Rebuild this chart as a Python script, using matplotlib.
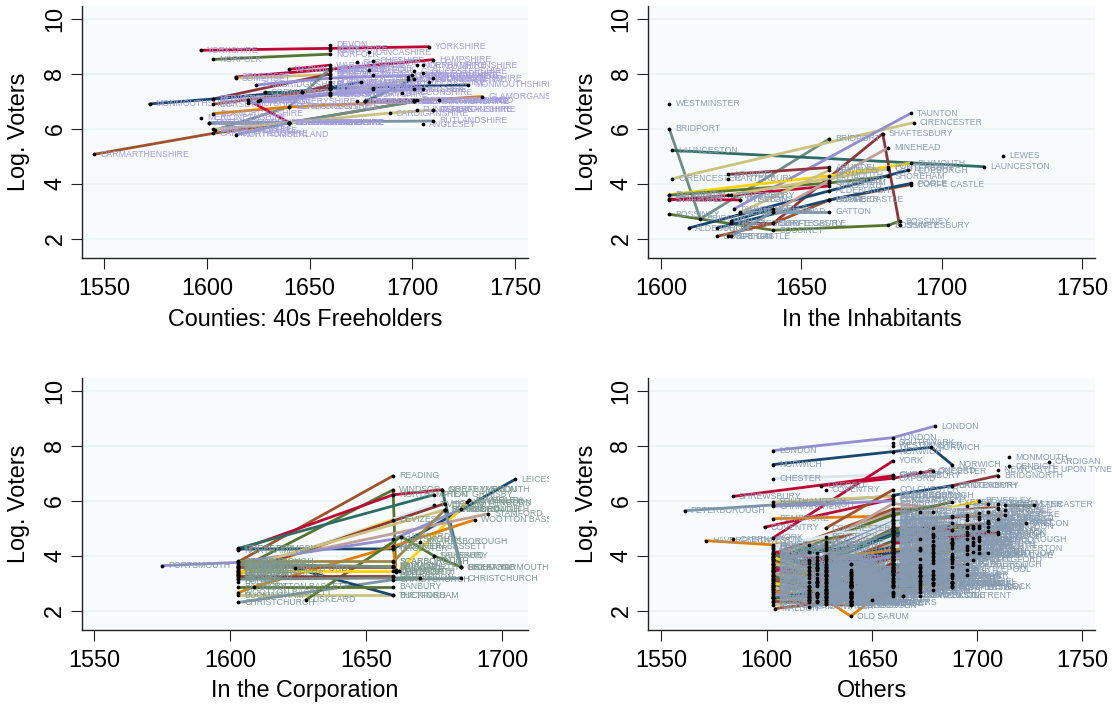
import matplotlib
matplotlib.use("Agg")
import matplotlib.pyplot as plt
from matplotlib.transforms import Bbox

plt.rcParams['font.family'] = ['Liberation Sans', 'DejaVu Sans']

pal = {"navy": "#1a476f", "maroon": "#90353b", "green": "#55752f", "orange": "#e37e00",
       "teal": "#6e8e84", "cranberry": "#c10534", "lavender": "#938dd2", "khaki": "#cac27e",
       "sienna": "#a0522d", "emidblue": "#7b92a8", "emerald": "#2d6d66", "brown": "#9c8847",
       "erose": "#bfa19c", "gold": "#ffd200", "bluish": "#d9e6eb"}
cycle = list(pal.keys())

# Counties
county_names = ["YORKSHIRE", "NORFOLK", "SOMERSET", "WARWICKSHIRE", "HAMPSHIRE", "SOMERSET",
                "BEDFORDSHIRE", "MONMOUTHSHIRE", "CAMBRIDGESHIRE", "CORNWALL", "BUCKINGHAMSHIRE",
                "HEREFORDSHIRE", "GLAMORGANSHIRE", "CARMARTHENSHIRE", "DORSET", "DERBYSHIRE",
                "CAERNARVONSHIRE", "CAERNARVONSHIRE", "RUTLANDSHIRE", "CARDIGANSHIRE", "NORTHUMBERLAND",
                "MONTGOMERYSHIRE", "WILTSHIRE", "SUSSEX", "LINCOLNSHIRE", "STAFFORDSHIRE", "CUMBERLAND"]
county_years = [(1597, 1660, 1708), (1603, 1660), (1614, 1660), (1640, 1660), (1660, 1710), (1614, 1660),
                (1603, 1660), (1572, 1603, 1660, 1727), (1624, 1660, 1700), (1628, 1646, 1660, 1681), (1646, 1660),
                (1604, 1640, 1660), (1603, 1640, 1701, 1734), (1545, 1603, 1640, 1701), (1603, 1660), (1620, 1640),
                (1601, 1640), (1640, 1701), (1601, 1710), (1603, 1640, 1689, 1710), (1614, 1640),
                (1625, 1660, 1698), (1620, 1660, 1701), (1626, 1660, 1705), (1677, 1701), (1660, 1675), (1677, 1701)]
county_votes = [(8.86, 8.93, 8.99), (8.53, 8.72), (7.89, 8.17), (8.17, 8.32), (8.17, 8.52), (7.85, 7.98),
                (7.09, 8.0), (6.91, 7.09, 7.48, 7.6), (7.6, 7.85, 7.95), (7.33, 7.33, 7.46, 7.5), (7.33, 7.6),
                (5.96, 6.81, 8.2), (6.56, 6.8, 7.02, 7.18), (5.08, 5.84, 6.23, 7.0), (6.9, 7.45), (7.05, 6.23),
                (6.23, 6.23), (6.23, 7.0), (6.23, 6.29), (5.99, 6.23, 6.58, 6.69), (5.79, 6.22),
                (7.0, 7.25, 7.8), (6.93, 7.25, 7.45), (7.05, 7.3, 7.45), (7.0, 7.83), (7.5, 7.7), (7.0, 7.05)]
county_colors = ["cranberry", "green", "cranberry", "cranberry", "cranberry", "khaki",
                 "maroon", "navy", "lavender", "emerald", "maroon",
                 "teal", "orange", "sienna", "sienna", "cranberry",
                 "emidblue", "teal", "emidblue", "khaki", "emidblue",
                 "khaki", "lavender", "lavender", "emerald", "navy", "sienna"]
county_one_names = ["DEVON", "KENT", "LANCASHIRE", "SHROPSHIRE", "CHESHIRE", "NORTHAMPTONSHIRE", "DERBYSHIRE",
                    "ESSEX", "SUFFOLK", "STAFFORDSHIRE", "GLOUCESTERSHIRE", "LEICESTERSHIRE", "OXFORDSHIRE",
                    "WORCESTERSHIRE", "NOTTINGHAMSHIRE", "BERKSHIRE", "HERTFORDSHIRE", "BRECONSHIRE", "DURHAM",
                    "WESTMORLAND", "NORTHUMBERLAND", "MERIONETHSHIRE", "FLINTSHIRE", "PEMBROKESHIRE", "ANGLESEY",
                    "DENBIGHSHIRE", "RADNORSHIRE", "CUMBERLAND"]
county_one_years = [1660, 1660, 1679, 1673, 1681, 1702, 1705,
                    1660, 1679, 1705, 1701, 1698, 1681,
                    1710, 1660, 1708, 1660, 1695, 1681,
                    1713, 1702, 1597, 1702, 1710, 1705,
                    1673, 1677, 1660]
county_one_votes = [9.07, 8.86, 8.79, 8.42, 8.48, 8.32, 8.32,
                    8.1, 8.15, 8.02, 8.1, 7.9, 7.95,
                    7.85, 7.7, 7.7, 7.3, 7.32, 7.45,
                    7.05, 7.05, 6.4, 6.69, 6.69, 6.17,
                    7.0, 7.0, 7.6]

# Inhabitants
inhab_names = ["BRIDPORT", "LAUNCESTON", "CIRENCESTER", "TAUNTON", "SHAFTESBURY", "ARUNDEL", "PLYMOUTH",
               "SHOREHAM", "STAFFORD", "ST ALBANS", "BOSSINEY", "ALDEBURGH", "CORFE CASTLE", "POOLE",
               "GATTON", "GATTON", "MINEHEAD", "NEWBURY", "CANTERBURY", "WELLS"]
inhab_years = [(1603, 1614, 1660), (1604, 1715), (1604, 1690), (1626, 1689), (1625, 1640, 1679, 1685),
               (1624, 1660), (1603, 1660, 1689), (1603, 1660, 1681), (1603, 1625, 1660), (1603, 1628),
               (1603, 1640, 1681, 1685), (1610, 1660, 1688), (1620, 1640, 1660, 1689), (1620, 1660, 1689),
               (1628, 1660), (1625, 1640), (1640, 1681), (1628, 1660), (1624, 1681), (1625, 1640)]
inhab_votes = [(6.0, 2.73, 5.64), (5.22, 4.63), (4.19, 6.23), (3.09, 6.57), (2.57, 2.57, 5.83, 2.5),
               (4.35, 4.6), (3.61, 4.3, 4.76), (3.59, 4.04, 4.28), (3.42, 3.59, 3.93), (3.45, 3.42),
               (2.9, 2.32, 2.5, 2.65), (2.4, 3.75, 4.5), (2.1, 2.57, 3.42, 3.98), (2.4, 3.42, 4.02),
               (3.0, 3.0), (2.1, 3.0), (3.0, 5.32), (2.95, 4.5), (3.6, 4.55), (2.65, 3.1)]
inhab_colors = ["teal", "emerald", "khaki", "lavender", "maroon", "maroon", "gold",
                "green", "cranberry", "cranberry", "green", "navy", "sienna", "navy",
                "emidblue", "emidblue", "erose", "khaki", "khaki", "navy"]
inhab_one_names = ["WESTMINSTER", "LEWES", "COBHAM", "PRESTON", "SALISBURY", "BRAMBER", "PONTEFRACT", "CANTERBURY"]
inhab_one_years = [1603, 1722, 1624, 1628, 1660, 1660, 1681, 1624]
inhab_one_votes = [6.92, 5.02, 2.1, 3.42, 4.12, 3.42, 4.63, 4.19]

# Corporation
corp_names = ["READING", "WINDSOR", "NORTHAMPTON", "GREAT GRIMSBY", "GREAT YARMOUTH", "LEICESTER", "TIVERTON",
              "DEVIZES", "PLYMOUTH", "WOOTTON BASSETT", "STAMFORD", "HIGHAM FERRERS", "PORTSMOUTH", "BRACKLEY",
              "BUCKINGHAM", "CHRISTCHURCH", "THETFORD", "LISKEARD", "BANBURY", "SCARBOROUGH", "SCARBOROUGH",
              "SALTASH", "DARTMOUTH", "HEDON", "BATH", "RIPON", "RICHMOND", "ANDOVER", "BRIDGNORTH", "HARWICH"]
corp_years = [(1603, 1660), (1603, 1660, 1661), (1603, 1660, 1678), (1603, 1675), (1678, 1685), (1603, 1660, 1705),
              (1603, 1675), (1603, 1660), (1662, 1688), (1603, 1609, 1660, 1690), (1603, 1695), (1603, 1679),
              (1575, 1603, 1660, 1685), (1603, 1679), (1603, 1660), (1603, 1660, 1685), (1624, 1660),
              (1628, 1663, 1675, 1685), (1603, 1660), (1603, 1660), (1660, 1679), (1603, 1660), (1603, 1660),
              (1603, 1660), (1603, 1660), (1603, 1670), (1679, 1685), (1660, 1661), (1603, 1660), (1603, 1660)]
corp_votes = [(3.78, 6.91), (3.5, 6.4, 3.4), (4.2, 6.22, 6.4), (4.27, 6.22), (6.4, 3.59), (4.25, 4.25, 6.79),
              (3.4, 5.85), (3.3, 5.31), (3.43, 6.03), (2.65, 2.88, 4.34, 5.31), (3.62, 5.53), (3.37, 5.9),
              (3.64, 3.76, 4.6, 5.7), (3.55, 5.67), (2.56, 2.56), (2.3, 3.13, 3.18), (3.55, 2.56),
              (2.4, 4.7, 4.0, 3.59), (2.88, 2.88), (3.8, 3.8), (3.78, 5.67), (3.64, 3.64), (3.43, 3.43),
              (3.22, 3.22), (3.27, 3.27), (3.15, 3.2), (5.67, 3.59), (4.34, 3.5), (3.58, 3.58), (3.7, 3.6)]
corp_colors = ["sienna", "green", "cranberry", "emerald", "emerald", "navy", "bluish",
               "gold", "gold", "orange", "erose", "maroon", "lavender", "khaki",
               "khaki", "emidblue", "navy", "green", "green", "brown", "brown",
               "orange", "gold", "cranberry", "maroon", "teal", "emidblue", "orange", "sienna", "teal"]
corp_one_names = ["SALISBURY", "KNARESBOROUGH", "HERTFORD", "CAMBRIDGE", "TOTNES", "BEVERLEY", "HUNTINGDON", "DORCHESTER", "BODMIN", "MORPETH"]
corp_one_years = [1675, 1670, 1603, 1603, 1603, 1688, 1687, 1603, 1603, 1603]
corp_one_votes = [4.0, 4.51, 3.3, 3.45, 3.15, 6.03, 5.95, 3.6, 3.05, 3.35]

# Others, the lines that stand out of the mass
other_names = ["LONDON", "NORWICH", "CHESTER", "YORK", "SHREWSBURY", "OXFORD", "COVENTRY", "PETERBOROUGH",
               "HAVERFORDWEST", "BRIDGNORTH", "CANTERBURY", "LANCASTER", "OLD SARUM", "MALDON", "PEMBROKE",
               "SOUTHAMPTON", "COLCHESTER", "CARMARTHEN", "KINGSTON", "MUCH WENLOCK", "GREAT BEDWIN", "EAST LOOE"]
other_years = [(1603, 1660, 1680), (1603, 1660, 1678, 1688), (1603, 1660), (1603, 1660), (1584, 1660), (1626, 1660, 1679),
               (1599, 1660), (1561, 1603, 1660), (1571, 1603, 1660), (1688, 1710), (1660, 1688), (1713, 1727),
               (1628, 1640, 1650), (1604, 1628), (1603, 1660, 1688, 1713), (1603, 1660), (1628, 1660), (1603, 1660),
               (1640, 1688), (1665, 1679, 1688), (1603, 1628), (1640, 1660)]
other_votes = [(7.83, 8.3, 8.72), (7.32, 7.79, 7.95, 7.32), (6.81, 6.95), (4.65, 7.45), (6.16, 6.91), (6.55, 6.82, 7.1),
               (5.04, 6.06), (5.64, 5.85, 6.18), (4.55, 4.4, 4.82), (6.55, 6.92), (6.2, 6.55), (5.85, 5.85),
               (2.4, 1.8, 2.4), (2.08, 2.3), (5.35, 5.45, 5.4, 5.5), (5.96, 6.16), (5.0, 6.4), (5.8, 6.0),
               (2.95, 3.0), (2.55, 3.0, 2.9), (2.8, 2.3), (2.25, 2.6)]
other_colors = ["lavender", "navy", "bluish", "cranberry", "cranberry", "cranberry",
                "cranberry", "emidblue", "orange", "maroon", "navy", "green",
                "orange", "sienna", "orange", "khaki", "sienna", "lavender",
                "sienna", "green", "green", "green"]
other_one_names = ["SOUTHWARK", "WESTMINSTER", "NEWCASTLE UPON TYNE", "MONMOUTH", "DENBIGH", "CARDIGAN", "BRECON",
                   "CAERNARVON", "NEWARK ON TRENT", "COVENTRY", "GLOUCESTER"]
other_one_years = [1660, 1660, 1710, 1715, 1715, 1734, 1723, 1584, 1673, 1628, 1673]
other_one_votes = [8.12, 8.0, 7.13, 7.59, 7.25, 7.43, 5.18, 4.6, 2.55, 6.4, 7.05]

mass_names = ["ABINGDON", "AMERSHAM", "ANDOVER", "APPLEBY", "ARUNDEL",
              "ASHBURTON", "AYLESBURY", "BANBURY", "BARNSTAPLE", "BATH",
              "BEAUMARIS", "BEDFORD", "BERWICK", "BEVERLEY", "BEWDLEY",
              "BISHOPS CASTLE", "BLECHINGLEY", "BODMIN", "BOROUGHBRIDGE", "BOSTON",
              "BRACKLEY", "BRAMBER", "BRIDPORT", "BRISTOL", "BUCKINGHAM",
              "CALLINGTON", "CALNE", "CAMBRIDGE", "CAMELFORD", "CARLISLE",
              "CASTLE RISING", "CHICHESTER", "CHIPPENHAM", "CLITHEROE", "COCKERMOUTH",
              "CORFE CASTLE", "DARTMOUTH", "DERBY", "DEVIZES", "DORCHESTER",
              "DOVER", "DOWNTON", "DROITWICH", "DUNWICH", "DURHAM",
              "EAST GRINSTEAD", "EVESHAM", "EXETER", "EYE", "FOWEY",
              "GRAMPOUND", "GRANTHAM", "GRIMSBY", "GUILDFORD", "HARWICH",
              "HASLEMERE", "HASTINGS", "HEDON", "HELSTON", "HEREFORD",
              "HERTFORD", "HEYTESBURY", "HIGHAM FERRERS", "HINDON", "HONITON",
              "HORSHAM", "HUNTINGDON", "HYTHE", "ILCHESTER", "IPSWICH",
              "KINGS LYNN", "KNARESBOROUGH", "LEOMINSTER", "LICHFIELD", "LINCOLN",
              "LOSTWITHIEL", "LUDGERSHALL", "LUDLOW", "LYME REGIS", "LYMINGTON",
              "MAIDSTONE", "MALMESBURY", "MALTON", "MARLBOROUGH", "MARLOW",
              "MIDHURST", "MILBORNE PORT", "MITCHELL", "MORPETH", "NEWPORT",
              "NEW ROMNEY", "NEWTON", "NORTHALLERTON", "OKEHAMPTON", "ORFORD",
              "PENRYN", "PETERSFIELD", "PLYMPTON", "PONTEFRACT", "PRESTON",
              "QUEENBOROUGH", "REIGATE", "RETFORD", "RIPON", "ROCHESTER",
              "RYE", "SALTASH", "SANDWICH", "SEAFORD", "ST ALBANS",
              "ST GERMANS", "ST IVES", "ST MAWES", "STEYNING", "STOCKBRIDGE",
              "SUDBURY", "TAMWORTH", "TAVISTOCK", "TEWKESBURY", "THIRSK",
              "TOTNES", "TREGONY", "TRURO", "WALLINGFORD", "WAREHAM",
              "WARWICK", "WEOBLEY", "WENDOVER", "WEST LOOE", "WEYMOUTH",
              "WHITCHURCH", "WIGAN", "WILTON", "WINCHELSEA", "WINCHESTER"]
mass_years = [(1628, 1660, 1698), (1624, 1660), (1603, 1660), (1620, 1673), (1628, 1679),
              (1640, 1688), (1603, 1660, 1695), (1624, 1660), (1603, 1660, 1701), (1628, 1673),
              (1603, 1640), (1620, 1660, 1705), (1603, 1660, 1695), (1628, 1679, 1701), (1640, 1660),
              (1628, 1665), (1620, 1660), (1640, 1679), (1640, 1673), (1603, 1660, 1701),
              (1628, 1660), (1603, 1640), (1624, 1660, 1688), (1603, 1660, 1710), (1628, 1679),
              (1620, 1660), (1640, 1688), (1628, 1660, 1705), (1603, 1640), (1620, 1660, 1713),
              (1624, 1679), (1603, 1660, 1695), (1628, 1660), (1640, 1673), (1603, 1660, 1688),
              (1620, 1660), (1628, 1673, 1698), (1603, 1660, 1701), (1624, 1679), (1640, 1660, 1688),
              (1603, 1660, 1695), (1620, 1660), (1628, 1688), (1640, 1660), (1603, 1673, 1710),
              (1624, 1660), (1628, 1660, 1698), (1603, 1660, 1688), (1640, 1679), (1620, 1660),
              (1628, 1660), (1603, 1679), (1624, 1660, 1695), (1640, 1688), (1628, 1660),
              (1620, 1673), (1603, 1660, 1701), (1628, 1679), (1640, 1660, 1698), (1603, 1660, 1710),
              (1624, 1660, 1688), (1628, 1673), (1640, 1660), (1620, 1679), (1603, 1660, 1695),
              (1628, 1660, 1688), (1624, 1660, 1705), (1640, 1673), (1603, 1660), (1620, 1660, 1695),
              (1628, 1688, 1705), (1640, 1660, 1701), (1603, 1660), (1624, 1679, 1698), (1628, 1660, 1710),
              (1640, 1688), (1620, 1660), (1603, 1660, 1695), (1628, 1673), (1640, 1660),
              (1624, 1660, 1688), (1603, 1679), (1628, 1660, 1701), (1620, 1660, 1695), (1640, 1688),
              (1628, 1660), (1603, 1660), (1640, 1673), (1624, 1679), (1628, 1660, 1698),
              (1603, 1660), (1620, 1688), (1640, 1660, 1701), (1628, 1673), (1624, 1660),
              (1603, 1660, 1688), (1640, 1679), (1628, 1660, 1698), (1620, 1660, 1705), (1603, 1679, 1710),
              (1624, 1660), (1640, 1688), (1628, 1660, 1695), (1603, 1673), (1620, 1660, 1701),
              (1640, 1660), (1628, 1688), (1603, 1660, 1695), (1624, 1679), (1628, 1660, 1705),
              (1640, 1660), (1603, 1673), (1620, 1660), (1628, 1688), (1640, 1679),
              (1624, 1660, 1695), (1603, 1660, 1701), (1628, 1673), (1640, 1660, 1688), (1620, 1679),
              (1603, 1660), (1628, 1660), (1624, 1688, 1705), (1640, 1660, 1698), (1603, 1673),
              (1628, 1660, 1710), (1620, 1660), (1640, 1688), (1603, 1679), (1628, 1660, 1701),
              (1624, 1660), (1640, 1673, 1695), (1603, 1660), (1620, 1688), (1628, 1660, 1705)]
mass_votes = [(4.4, 5.0, 5.1), (3.0, 3.6), (2.9, 3.9), (2.6, 3.4), (3.6, 4.1),
              (3.3, 4.6), (3.1, 4.4, 5.0), (2.6, 3.2), (4.3, 5.0, 5.4), (3.9, 4.6),
              (3.5, 3.0), (4.4, 5.5, 5.9), (4.1, 5.6, 5.8), (4.7, 5.6, 6.0), (3.2, 4.1),
              (2.9, 2.55), (2.9, 3.7), (2.7, 3.3), (3.5, 4.3), (3.9, 4.8, 5.1),
              (3.3, 4.9), (2.5, 2.7), (4.1, 5.2, 5.45), (4.05, 5.7, 5.75), (4.2, 5.0),
              (2.75, 3.1), (2.9, 3.8), (4.5, 5.9, 5.6), (2.45, 2.3), (3.8, 5.3, 5.65),
              (2.6, 3.0), (3.7, 5.1, 5.4), (3.4, 4.4), (2.9, 3.6), (3.6, 4.5, 5.2),
              (2.3, 3.0), (3.1, 4.2, 4.4), (4.0, 5.4, 5.55), (3.5, 4.7), (2.7, 3.5, 4.0),
              (3.95, 4.95, 5.3), (2.55, 3.45), (3.0, 3.9), (2.35, 2.55), (4.25, 5.6, 5.9),
              (2.65, 3.3), (4.0, 4.9, 5.0), (3.85, 5.5, 5.95), (2.85, 3.2), (3.05, 4.05),
              (2.4, 2.85), (3.25, 4.75), (3.75, 4.6, 4.85), (2.95, 4.45), (3.15, 3.95),
              (2.45, 3.25), (3.4, 4.55, 4.7), (2.8, 3.75), (3.35, 4.2, 4.5), (4.35, 5.15, 5.35),
              (3.55, 4.85, 4.45), (2.75, 3.55), (2.3, 3.35), (2.5, 3.15), (3.2, 4.25, 4.35),
              (3.45, 4.65, 4.4), (3.95, 5.3, 5.05), (2.6, 3.65), (3.3, 4.0), (4.15, 5.25, 5.5),
              (3.65, 4.95, 5.2), (3.1, 3.85, 4.6), (2.95, 3.7), (3.7, 4.8, 5.0), (4.3, 5.35, 5.7),
              (2.55, 3.05), (2.4, 2.9), (3.8, 4.9, 5.05), (2.7, 3.45), (2.85, 3.4),
              (3.55, 4.7, 4.95), (3.45, 4.15), (3.0, 4.1, 4.55), (3.6, 4.55, 4.75), (2.9, 3.75),
              (2.65, 3.1), (2.85, 3.55), (2.35, 2.8), (3.2, 3.95), (3.25, 4.35, 4.65),
              (2.7, 3.3), (2.5, 3.05), (3.05, 3.8, 4.25), (2.75, 3.25), (2.55, 2.95),
              (3.0, 3.95, 4.5), (2.45, 3.35), (2.8, 3.65, 4.15), (3.75, 5.05, 5.2), (3.5, 4.35, 4.8),
              (2.6, 3.5), (3.35, 4.3), (2.9, 3.9, 4.3), (3.15, 3.6), (3.85, 5.2, 5.35),
              (2.65, 3.6), (2.5, 3.2), (2.95, 4.0, 4.2), (2.35, 2.75), (3.4, 4.5, 4.9),
              (2.45, 2.95), (2.6, 3.1), (2.75, 3.4), (2.5, 3.0), (2.55, 3.15),
              (3.6, 4.75, 4.6), (3.1, 4.3, 4.35), (2.7, 3.2), (2.85, 3.7, 4.05), (2.4, 2.95),
              (2.8, 3.5), (2.55, 3.45), (3.05, 3.9, 4.1), (2.65, 3.6, 3.85), (2.3, 2.7),
              (3.3, 4.45, 4.85), (2.7, 3.75), (2.6, 3.3), (2.45, 3.0), (3.5, 4.6, 5.0),
              (2.5, 3.4), (2.35, 3.0, 3.3), (2.75, 3.85), (2.6, 2.85), (3.9, 5.1, 5.25)]

mass2_names = ["ALDBOROUGH", "ALDEBURGH", "BRIDGWATER", "CHIPPING WYCOMBE", "CRICKLADE",
               "GATTON", "GREAT MARLOW", "KINGSTON UPON HULL", "LAUNCESTON", "LEWES",
               "LISKEARD", "LIVERPOOL", "MINEHEAD", "NEWCASTLE UNDER LYME", "NEWPORT IOW",
               "NEWTOWN", "NORTHAMPTON", "NOTTINGHAM", "PLYMOUTH", "POOLE",
               "PORTSMOUTH", "READING", "RICHMOND", "SALISBURY", "SCARBOROUGH",
               "SHAFTESBURY", "SHOREHAM", "STAFFORD", "STAMFORD", "TAUNTON",
               "THETFORD", "TIVERTON", "WESTBURY", "WELLS", "WINDSOR",
               "WOOTTON BASSETT", "WORCESTER", "YARMOUTH IOW", "MELCOMBE REGIS", "CHRISTCHURCH",
               "CIRENCESTER", "DEAL", "FARNHAM", "GLASTONBURY", "HARTLEPOOL",
               "HENLEY", "LEICESTER", "LANGPORT", "LYDD", "PEVENSEY",
               "ROMSEY", "SAFFRON WALDEN", "STAINES", "TENBY", "WATCHET",
               "WOODSTOCK", "WINCANTON", "WHITBY", "YEOVIL", "ALNWICK"]
mass2_years = [(1603, 1660), (1603, 1640), (1620, 1660), (1628, 1673), (1624, 1660),
               (1603, 1628), (1620, 1640), (1628, 1679), (1640, 1660), (1603, 1660),
               (1624, 1673), (1603, 1640), (1628, 1660), (1620, 1679), (1640, 1688),
               (1603, 1628), (1624, 1688), (1628, 1695), (1603, 1660), (1640, 1673),
               (1620, 1660), (1603, 1640), (1628, 1660), (1624, 1679), (1640, 1695),
               (1603, 1628), (1620, 1640), (1628, 1688), (1603, 1660), (1640, 1660),
               (1624, 1673), (1603, 1620), (1628, 1660), (1620, 1688), (1640, 1679),
               (1603, 1640), (1624, 1660), (1628, 1701), (1603, 1660), (1640, 1660),
               (1620, 1673), (1603, 1628), (1628, 1679), (1624, 1660), (1640, 1695),
               (1603, 1640), (1620, 1660), (1628, 1688), (1603, 1660), (1640, 1673),
               (1624, 1640), (1603, 1620), (1628, 1660), (1620, 1679), (1640, 1660),
               (1603, 1628), (1624, 1688), (1628, 1660), (1603, 1640), (1640, 1679)]
mass2_votes = [(2.2, 2.9), (2.35, 2.2), (2.15, 2.7), (2.25, 2.95), (2.3, 3.05),
               (2.55, 2.25), (2.4, 2.3), (3.8, 4.55), (2.2, 2.65), (3.55, 4.2),
               (2.35, 3.1), (2.7, 2.5), (2.55, 3.3), (3.2, 4.0), (2.3, 2.85),
               (2.85, 2.45), (2.9, 3.6), (3.35, 4.05), (2.45, 3.15), (2.25, 2.85),
               (3.3, 4.45), (3.0, 2.6), (2.65, 3.5), (3.05, 3.85), (2.95, 3.7),
               (3.25, 2.75), (2.75, 2.55), (3.15, 3.95), (3.45, 4.05), (2.5, 3.55),
               (3.35, 3.9), (3.15, 2.85), (3.05, 4.15), (2.85, 3.35), (3.05, 3.45),
               (3.35, 2.95), (2.95, 3.85), (3.5, 4.1), (3.65, 4.3), (2.95, 3.75),
               (3.45, 4.2), (3.75, 3.25), (3.55, 4.35), (3.1, 4.2), (3.15, 3.5),
               (3.7, 3.25), (3.35, 4.55), (2.6, 3.25), (3.9, 4.55), (3.0, 3.3),
               (3.55, 3.4), (3.95, 3.5), (3.7, 4.65), (3.6, 4.4), (3.4, 3.95),
               (4.05, 3.6), (3.85, 4.5), (3.95, 4.9), (4.15, 3.7), (3.7, 4.25)]

# Panel layout, pixels of the 1112x706 picture
ylim = (1.31, 10.47)
y_ticks = [2, 4, 6, 8, 10]
W, H = 1112, 706


def panel(box, xlim, xticks, xlabel, ylab_x, lab_col, clip_x, groups):
    left, right, top, bottom = box
    ax = fig.add_axes([left / W, 1 - bottom / H, (right - left) / W, (bottom - top) / H])
    ax.set_facecolor("#f8fbfb")
    ax.set_xlim(*xlim)
    ax.set_ylim(*ylim)
    ax.set_xticks(xticks)
    ax.set_yticks(y_ticks)
    ax.yaxis.grid(True, color="#e9f2f3", lw=1.1)
    ax.set_axisbelow(True)
    for s in ["top", "right"]:
        ax.spines[s].set_visible(False)
    for s in ["left", "bottom"]:
        ax.spines[s].set_linewidth(1.0)
        ax.spines[s].set_color("#222222")
    ax.tick_params(length=7.7, width=0.8, color="#222222", labelsize=16.8)
    ax.tick_params(axis="x", pad=6)
    ax.tick_params(axis="y", pad=3.5)
    plt.setp(ax.get_yticklabels(), rotation=90, va="center")
    ax.set_xlabel(xlabel, fontsize=16.8, labelpad=5.5)
    fig.text(ylab_x / W, 1 - (top + bottom) / 2 / H, "Log. Voters", rotation=90, fontsize=16.8,
             ha="center", va="center")
    clip = Bbox([[0, 0], [clip_x, H]])
    for names, years, votes, colors in groups:
        for y0, v0, c in zip(years, votes, colors):
            if c is not None:
                ax.plot(y0, v0, color=pal[c], lw=2.0, solid_capstyle="round", zorder=2)
    for names, years, votes, colors in groups:
        for n, y0, v0 in zip(names, years, votes):
            for a, b in zip(y0, v0):
                t = ax.annotate(n, (a, b), xytext=(4.4, 0), textcoords="offset points", va="center", ha="left",
                                fontsize=6.3, color=lab_col, zorder=3)
                t.set_clip_on(True)
                t.set_clip_box(clip)
    for names, years, votes, colors in groups:
        for y0, v0 in zip(years, votes):
            ax.plot(y0, v0, ls="none", marker="o", ms=2.7, mfc="black", mec="black", mew=0, zorder=4)
    return ax


def singles(years, votes):
    return [(y0,) for y0 in years], [(v0,) for v0 in votes]


fig = plt.figure(figsize=(W / 100, H / 100), dpi=100, facecolor="white")

cy, cv = singles(county_one_years, county_one_votes)
panel((82, 528, 6, 258), (1539.1, 1756.3), [1550, 1600, 1650, 1700, 1750], "Counties: 40s Freeholders", 19, "#a19cdb", 549,
      [(county_names, county_years, county_votes, county_colors),
       (county_one_names, cy, cv, [None] * len(cy))])

iy, iv = singles(inhab_one_years, inhab_one_votes)
panel((648.3, 1095, 6, 258), (1595.5, 1754.6), [1600, 1650, 1700, 1750], "In the Inhabitants", 586, "#8a9eb2", 1112,
      [(inhab_names, inhab_years, inhab_votes, inhab_colors),
       (inhab_one_names, iy, iv, [None] * len(iy))])

ky, kv = singles(corp_one_years, corp_one_votes)
panel((81.7, 528, 378, 629.7), (1545.5, 1709.6), [1550, 1600, 1650, 1700], "In the Corporation", 19, "#7d9a90", 549,
      [(corp_names, corp_years, corp_votes, corp_colors),
       (corp_one_names, ky, kv, [None] * len(ky))])

oy, ov = singles(other_one_years, other_one_votes)
mass_colors = [cycle[i % 15] for i in range(len(mass_names))]
mass2_colors = [cycle[(i + 7) % 15] for i in range(len(mass2_names))]
panel((648, 1095, 378, 629.7), (1543.6, 1756), [1550, 1600, 1650, 1700, 1750], "Others", 586, "#869ab0", 1112,
      [(other_names, other_years, other_votes, other_colors),
       (mass_names, mass_years, mass_votes, mass_colors),
       (mass2_names, mass2_years, mass2_votes, mass2_colors),
       (other_one_names, oy, ov, [None] * len(oy))])

fig.savefig("out.png", dpi=100, facecolor="white")
